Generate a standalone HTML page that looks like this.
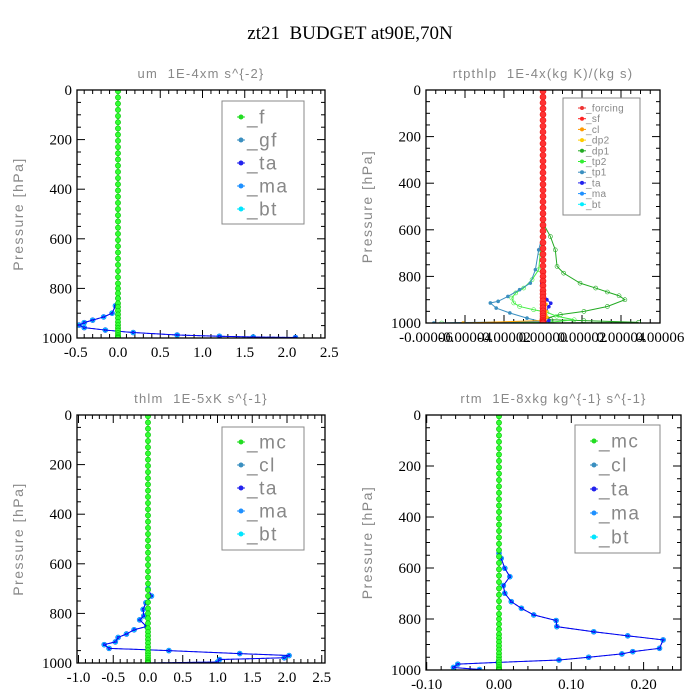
<!DOCTYPE html>
<html><head><meta charset="utf-8"><style>
body{margin:0;background:#fff}
svg{display:block}
.ser{font-family:"Liberation Serif",serif}
.san{font-family:"Liberation Sans",sans-serif;fill:#888}
</style></head><body>
<svg id="c" width="700" height="700" viewBox="0 0 700 700">
<text x="350" y="39" text-anchor="middle" class="ser" font-size="19">zt21&#160; BUDGET at90E,70N</text>
</svg>
<script>
// shared pressure levels (hPa) for the zero-valued series
const levels = [5,30,55,80,105,130,155,180,205,230,255,280,305,330,355,380,405,430,455,480,505,530,555,580,605,630,655,680,705,730,755,780,800,820,840,860,875,890,905,920,935,948,960,970,980,988,994,998,1000];
const yTicks = [0,200,400,600,800,1000];

// panel 1: um
const umP = [840,870,900,915,928,938,948,958,968,978,988,993,996,998,1000];
const umV = [0.0,-0.03,-0.07,-0.17,-0.3,-0.4,-0.46,-0.4,-0.15,0.18,0.7,1.2,1.6,2.1,2.1];
const umTicks = [-0.5,0.0,0.5,1.0,1.5,2.0,2.5];
const umLegend = ["_f","_gf","_ta","_ma","_bt"];

// panel 2: rtpthlp
const dp1P = [571,629,686,757,786,829,850,867,883,900,929,950,964,979,986,990,997,1000];
const dp1V = [0,3.8e-6,6.3e-6,7.2e-6,1.06e-5,1.9e-5,2.7e-5,3.3e-5,3.9e-5,4.2e-5,3.3e-5,2.1e-5,8.9e-6,2e-6,4e-6,2.1e-5,4.9e-5,2e-6];
const tp2P = [586,700,771,814,850,871,893,914,929,943,954,971,986,997,1000];
const tp2V = [0,-1.4e-6,-2.2e-6,-5.6e-6,-9.9e-6,-1.4e-5,-1.6e-5,-1.5e-5,-1.2e-5,-4.8e-6,2e-6,7e-6,1.6e-5,4e-6,-5.2e-5];
const tp1P = [614,686,771,829,857,886,907,914,936,957,979,993,1000];
const tp1V = [0,-2.2e-6,-3.9e-6,-6.5e-6,-1.2e-5,-1.8e-5,-2.3e-5,-2.7e-5,-2.4e-5,-1.7e-5,-8.2e-6,-1.4e-6,-5.6e-5];
const taP2 = [800,830,860,900,915,930,960,990,1000];
const taV2 = [-5e-7,-6e-7,-3e-7,2e-6,4e-6,3e-6,1e-6,3e-6,0];
const clP2 = [880,920,950,975,990,1000];
const clV2 = [5e-7,1.5e-6,1.5e-6,2e-6,-1e-6,-4.1e-5];
const rtTicks = [-0.00006,-0.00004,-0.00002,0.00000,0.00002,0.00004,0.00006];
const rtLegend = ["_forcing","_sf","_cl","_dp2","_dp1","_tp2","_tp1","_ta","_ma","_bt"];

// panel 3: thlm
const thP = [700,730,757,784,810,826,853,866,883,897,915,926,941,950,962,970,979,986,996,1000];
const thV = [0,0.05,-0.03,-0.07,-0.06,-0.12,-0.02,-0.2,-0.31,-0.43,-0.47,-0.63,-0.56,0.3,1.32,2.03,1.96,1.03,1.0,0];
const thTicks = [-1.0,-0.5,0.0,0.5,1.0,1.5,2.0,2.5];
const thLegend = ["_mc","_cl","_ta","_ma","_bt"];

// panel 4: rtm
const rmP = [542,562,601,634,669,699,732,758,784,806,830,850,866,882,915,928,937,950,961,970,977,990,998];
const rmV = [0,0.003,0.008,0.015,0.006,0.008,0.017,0.031,0.048,0.079,0.080,0.131,0.178,0.227,0.222,0.185,0.170,0.124,0.083,-0.001,-0.057,-0.063,-0.027];
const rmTicks = [-0.10,0.00,0.10,0.20];
const rmLegend = ["_mc","_cl","_ta","_ma","_bt"];

const NS="http://www.w3.org/2000/svg";
const svg=document.getElementById('c');
function mk(tag,attrs,parent){const e=document.createElementNS(NS,tag);for(const k in attrs)e.setAttribute(k,attrs[k]);(parent||svg).appendChild(e);return e;}

function panel(cfg){
  const g=mk('g',{});
  
  
  const X=v=>cfg.x0+(v-cfg.v0)*cfg.sx;
  const Y=p=>cfg.top+(p/1000)*(cfg.bot-cfg.top);
  const t=mk('text',{x:(cfg.left+cfg.right)/2,y:cfg.top-12,'text-anchor':'middle','class':'san','font-size':13,'letter-spacing':1.2},g);
  t.textContent=cfg.title;
  
  
  const yt=mk('text',{x:0,y:0,'text-anchor':'middle','class':'san','font-size':14,'letter-spacing':1.5,transform:`translate(${cfg.left-54},${(cfg.top+cfg.bot)/2}) rotate(-90)`},g);
  yt.textContent='Pressure [hPa]';
  
  
  for(let p=0;p<=1000;p+=50){
    const L=p%200===0?8:4,y=Y(p);
    mk('line',{x1:cfg.left,x2:cfg.left+L,y1:y,y2:y,stroke:'#000'},g);
    mk('line',{x1:cfg.right,x2:cfg.right-L,y1:y,y2:y,stroke:'#000'},g);
  }
  yTicks.forEach(p=>{
    const tx=mk('text',{x:cfg.left-5,y:Y(p)+5,'text-anchor':'end','class':'ser','font-size':15},g);
    tx.textContent=p;
    
    
  });
  const step=cfg.ticks[1]-cfg.ticks[0];
  cfg.ticks.forEach((v,i)=>{
    const x=X(v);
    if(x>=cfg.left-1&&x<=cfg.right+1){
      mk('line',{x1:x,x2:x,y1:cfg.bot,y2:cfg.bot-8,stroke:'#000'},g);
      mk('line',{x1:x,x2:x,y1:cfg.top,y2:cfg.top+8,stroke:'#000'},g);
    }
    for(let k=1;k<cfg.minor;k++){
      const xm=X(v+step*k/cfg.minor);
      if(xm>cfg.left&&xm<cfg.right){
        mk('line',{x1:xm,x2:xm,y1:cfg.bot,y2:cfg.bot-4,stroke:'#000'},g);
        mk('line',{x1:xm,x2:xm,y1:cfg.top,y2:cfg.top+4,stroke:'#000'},g);
      }
    }
    const tx=mk('text',{x:x,y:cfg.bot+19,'text-anchor':'middle','class':'ser','font-size':cfg.tfs||15},g);
    tx.textContent=cfg.fmt(v);
    
    
  });
  const cid='clip'+cfg.name;
  const cp=mk('clipPath',{id:cid},g);mk('rect',{x:cfg.left,y:cfg.top,width:cfg.right-cfg.left,height:cfg.bot-cfg.top},cp);
  const pg=mk('g',{'clip-path':`url(#${cid})`},g);
  function series(P,V,color,dash,mfill,name,r){
    const s=mk('g',{},pg);
    
    
    mk('polyline',{points:P.map((p,i)=>X(V[i])+','+Y(p)).join(' '),fill:'none',stroke:color,'stroke-width':1,'stroke-dasharray':dash||''},s);
    P.forEach((p,i)=>mk('circle',{cx:X(V[i]),cy:Y(p),r:r||2,fill:mfill,stroke:color,'stroke-width':0.6},s));
  }
  cfg.draw(series,X,Y,pg);
  mk('rect',{x:cfg.left,y:cfg.top,width:cfg.right-cfg.left,height:cfg.bot-cfg.top,fill:'none',stroke:'#000','stroke-width':1.3},g);
  const lg=mk('g',{},g);
  
  
  const L=cfg.leg;
  mk('rect',{x:L.x,y:L.y,width:L.w,height:L.h,fill:'#fff',stroke:'#888'},lg);
  cfg.legend.forEach((s,i)=>{
    const y=L.y0+i*L.dy;
    const e=mk('g',{},lg);
    
    
    mk('line',{x1:L.mx-4,x2:L.mx+4,y1:y,y2:y,stroke:L.colors[i]},e);
    mk('circle',{cx:L.mx,cy:y,r:L.fs>12?2.5:2,fill:L.colors[i]},e);
    const tx=mk('text',{x:L.tx,y:y+L.fs*0.35,'class':'san','font-size':L.fs,'letter-spacing':L.fs>12?1.5:0.3},e);
    tx.textContent=s;
  });
}
function zeros(){return levels.map(()=>0);}
const fmt1=v=>v.toFixed(1);

panel({name:'um-panel',title:'um\u00a0\u00a01E-4xm s^{-2}',left:77,right:325,top:90,bot:338,x0:118,v0:0,sx:84.5,ticks:umTicks,minor:5,fmt:fmt1,legend:umLegend,
 leg:{x:222,y:101,w:82,h:123,y0:117,dy:23,mx:241,tx:247,fs:19,colors:['#22dd22','#3a8fc0','#2222ee','#1e90ff','#00e5ff']},
 draw:(S)=>{S(umP,umV,'#1e60ff','3,2','#0ff','bt-series',2.5);S(umP,umV,'#0000ee','','#33f','ta-series',1.2);
   S(levels,zeros(),'#00c000','','#3f3','f-series',2.6);}});

panel({name:'rtpthlp-panel',title:'rtpthlp\u00a0\u00a01E-4x(kg K)/(kg s)',left:426,right:660,top:90,bot:323,x0:543,v0:0,sx:117/0.00006,ticks:rtTicks,minor:4,tfs:15,fmt:v=>v.toFixed(5).replace('-0.00000','0.00000'),legend:rtLegend,
 leg:{x:563,y:98,w:77,h:117,y0:108,dy:10.7,mx:582,tx:586,fs:10,colors:['#e33','#f22','#f90','#fc0','#2a2','#3e3','#3a8fc0','#22e','#1e90ff','#0ef']},
 draw:(S)=>{S(dp1P,dp1V,'#22aa22','','none','dp1-series',2);S(tp2P,tp2V,'#44ee44','','none','tp2-series',2);
   S(tp1P,tp1V,'#3a8fc0','','#3a8fc0','tp1-series',1.5);S(taP2,taV2,'#2222ee','','#22e','ta-series',1.5);
   S(clP2,clV2,'#ffa500','','#fc0','cl-series',1.5);
   S(levels,zeros(),'#ee1111','','#f33','forcing-series',3);}});

panel({name:'thlm-panel',title:'thlm\u00a0\u00a01E-5xK s^{-1}',left:77,right:325,top:415,bot:663,x0:148,v0:0,sx:69.5,ticks:thTicks,minor:5,fmt:fmt1,legend:thLegend,
 leg:{x:222,y:427,w:82,h:123,y0:442,dy:23,mx:241,tx:247,fs:19,colors:['#22dd22','#3a8fc0','#2222ee','#1e90ff','#00e5ff']},
 draw:(S)=>{S(thP,thV,'#1e60ff','3,2','#0ff','bt-series',2.5);S(thP,thV,'#0000ee','','#33f','ta-series',1.2);
   S(levels,zeros(),'#00c000','','#3f3','mc-series',2.6);}});

panel({name:'rtm-panel',title:'rtm\u00a0\u00a01E-8xkg kg^{-1} s^{-1}',left:426,right:681,top:415,bot:670,x0:499,v0:0,sx:723,ticks:rmTicks,minor:5,fmt:v=>v.toFixed(2),legend:rmLegend,
 leg:{x:575,y:425,w:85,h:128,y0:441,dy:24,mx:594,tx:599,fs:19,colors:['#22dd22','#3a8fc0','#2222ee','#1e90ff','#00e5ff']},
 draw:(S)=>{S(rmP,rmV,'#1e60ff','3,2','#0ff','bt-series',2.5);S(rmP,rmV,'#0000ee','','#33f','ta-series',1.2);
   S(levels,zeros(),'#00c000','','#3f3','mc-series',2.6);}});
</script>
</body></html>
